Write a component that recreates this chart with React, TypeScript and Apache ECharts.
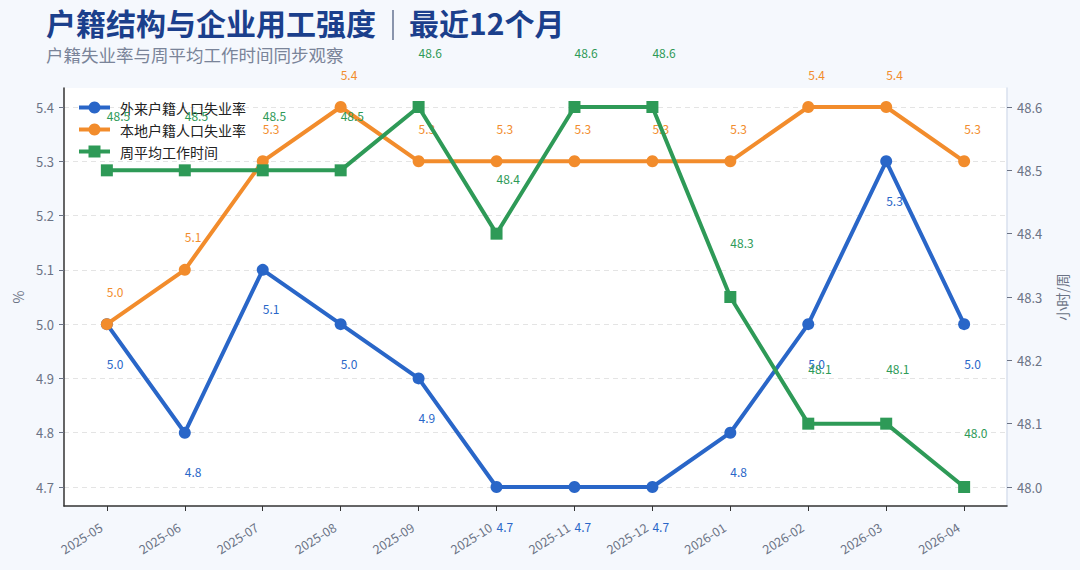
import React, { useEffect, useRef } from "react";
import * as echarts from "echarts";

const months = [
  "2025-05", "2025-06", "2025-07", "2025-08", "2025-09", "2025-10",
  "2025-11", "2025-12", "2026-01", "2026-02", "2026-03", "2026-04",
];
const migrantRate = [5.0, 4.8, 5.1, 5.0, 4.9, 4.7, 4.7, 4.7, 4.8, 5.0, 5.3, 5.0];
const localRate = [5.0, 5.1, 5.3, 5.4, 5.3, 5.3, 5.3, 5.3, 5.3, 5.4, 5.4, 5.3];
const weeklyHours = [48.5, 48.5, 48.5, 48.5, 48.6, 48.4, 48.6, 48.6, 48.3, 48.1, 48.1, 48.0];
const leftTicks = [4.7, 4.8, 4.9, 5.0, 5.1, 5.2, 5.3, 5.4];
const rightTicks = [48.0, 48.1, 48.2, 48.3, 48.4, 48.5, 48.6];

const seriesNames = ["外来户籍人口失业率", "本地户籍人口失业率", "周平均工作时间"];
const colors = ["#2966c8", "#f28c2c", "#2e9a57"];

const FONT = "'Noto Sans CJK SC', 'Noto Sans', sans-serif";
const AXIS_GRAY = "#6b7385";

export default function App() {
  const ref = useRef<HTMLDivElement>(null);

  useEffect(() => {
    if (!ref.current) return;
    document.body.style.margin = "0";
    const chart = echarts.init(ref.current, null, { renderer: "svg" });
    const idx = months.map((_, i) => i);
    const toPairs = (arr: number[]) => arr.map((v, i) => [i, v]);

    const labelFor = (color: string, dy: number) => ({
      show: true,
      position: "inside",
      align: "left",
      verticalAlign: "middle",
      offset: [0, dy],
      color,
      fontSize: 12,
      fontFamily: FONT,
      formatter: (p: any) => Number(p.value[1]).toFixed(1),
    });

    const option: any = {
      animation: false,
      backgroundColor: "#f5f8fd",
      textStyle: { fontFamily: FONT },
      graphic: [
        {
          type: "text",
          left: 46,
          top: 7,
          style: {
            text: "户籍结构与企业用工强度",
            font: `bold 30px ${FONT}`,
            fill: "#1b3f8c",
          },
        },
        {
          type: "line",
          shape: { x1: 393, y1: 10, x2: 393, y2: 40 },
          style: { stroke: "#6f7c99", lineWidth: 1.6 },
        },
        {
          type: "text",
          left: 409,
          top: 7,
          style: {
            text: "最近12个月",
            font: `bold 30px ${FONT}`,
            fill: "#1b3f8c",
          },
        },
        {
          type: "text",
          left: 46,
          top: 46,
          style: {
            text: "户籍失业率与周平均工作时间同步观察",
            font: `17.5px ${FONT}`,
            fill: "#7a8499",
          },
        },
      ],
      legend: {
        orient: "vertical",
        left: 72,
        top: 95,
        padding: 5,
        itemWidth: 31,
        itemHeight: 15,
        itemGap: 7,
        data: seriesNames,
        lineStyle: { width: 4 },
        textStyle: {
          fontSize: 14,
          lineHeight: 15,
          color: "#222",
          fontFamily: FONT,
          padding: [0, 0, 0, 5],
        },
      },
      grid: {
        left: 64,
        right: 73,
        top: 88,
        bottom: 64,
        show: true,
        backgroundColor: "#ffffff",
        borderWidth: 0,
      },
      xAxis: {
        type: "value",
        min: -0.55,
        max: 11.55,
        axisLine: { show: true, onZero: false, lineStyle: { color: "#333", width: 1.5 } },
        axisTick: { show: true, customValues: idx, length: 5, lineStyle: { color: "#333" } },
        axisLabel: {
          customValues: idx,
          formatter: (v: number) => months[Math.round(v)] ?? "",
          rotate: 32,
          fontSize: 12.5,
          color: AXIS_GRAY,
          margin: 16,
          padding: [0, 7, 0, 0],
          fontFamily: FONT,
        },
        splitLine: { show: false },
      },
      yAxis: [
        {
          type: "value",
          position: "left",
          min: 4.665,
          max: 5.435,
          name: "%",
          nameLocation: "middle",
          nameGap: 39,
          nameRotate: 90,
          nameTextStyle: { color: AXIS_GRAY, fontSize: 14, fontFamily: FONT },
          axisLine: { show: true, onZero: false, lineStyle: { color: "#333", width: 1.5 } },
          axisTick: { show: true, customValues: leftTicks, length: 5, lineStyle: { color: AXIS_GRAY } },
          axisLabel: {
            customValues: leftTicks,
            formatter: (v: number) => v.toFixed(1),
            fontSize: 13,
            color: AXIS_GRAY,
            margin: 10,
            fontFamily: FONT,
          },
          splitLine: { show: true, lineStyle: { color: "#e4e4e4", type: [5, 4], width: 1 } },
        },
        {
          type: "value",
          position: "right",
          min: 47.97,
          max: 48.63,
          name: "小时/周",
          nameLocation: "middle",
          nameGap: 48,
          nameRotate: 90,
          nameTextStyle: { color: AXIS_GRAY, fontSize: 14, fontFamily: FONT },
          axisLine: { show: true, onZero: false, lineStyle: { color: "#d8e1ee", width: 1.5 } },
          axisTick: { show: true, customValues: rightTicks, length: 5, lineStyle: { color: AXIS_GRAY } },
          axisLabel: {
            customValues: rightTicks,
            formatter: (v: number) => v.toFixed(1),
            fontSize: 13,
            color: AXIS_GRAY,
            margin: 10,
            fontFamily: FONT,
          },
          splitLine: { show: false },
        },
      ],
      series: [
        {
          name: seriesNames[0],
          type: "line",
          yAxisIndex: 0,
          data: toPairs(migrantRate),
          color: colors[0],
          lineStyle: { width: 4, color: colors[0] },
          symbol: "circle",
          symbolSize: 12,
          itemStyle: { color: colors[0] },
          label: labelFor(colors[0], 39),
          z: 2,
        },
        {
          name: seriesNames[1],
          type: "line",
          yAxisIndex: 0,
          data: toPairs(localRate),
          color: colors[1],
          lineStyle: { width: 4, color: colors[1] },
          symbol: "circle",
          symbolSize: 12,
          itemStyle: { color: colors[1] },
          label: labelFor(colors[1], -33),
          z: 3,
        },
        {
          name: seriesNames[2],
          type: "line",
          yAxisIndex: 1,
          data: toPairs(weeklyHours),
          color: colors[2],
          lineStyle: { width: 4, color: colors[2] },
          symbol: "rect",
          symbolSize: 12,
          itemStyle: { color: colors[2] },
          label: labelFor(colors[2], -55),
          z: 4,
        },
      ],
    };

    chart.setOption(option);
    return () => chart.dispose();
  }, []);

  return (
    <div
      ref={ref}
      style={{ position: "fixed", left: 0, top: 0, width: 1080, height: 570, background: "#f5f8fd" }}
    />
  );
}
